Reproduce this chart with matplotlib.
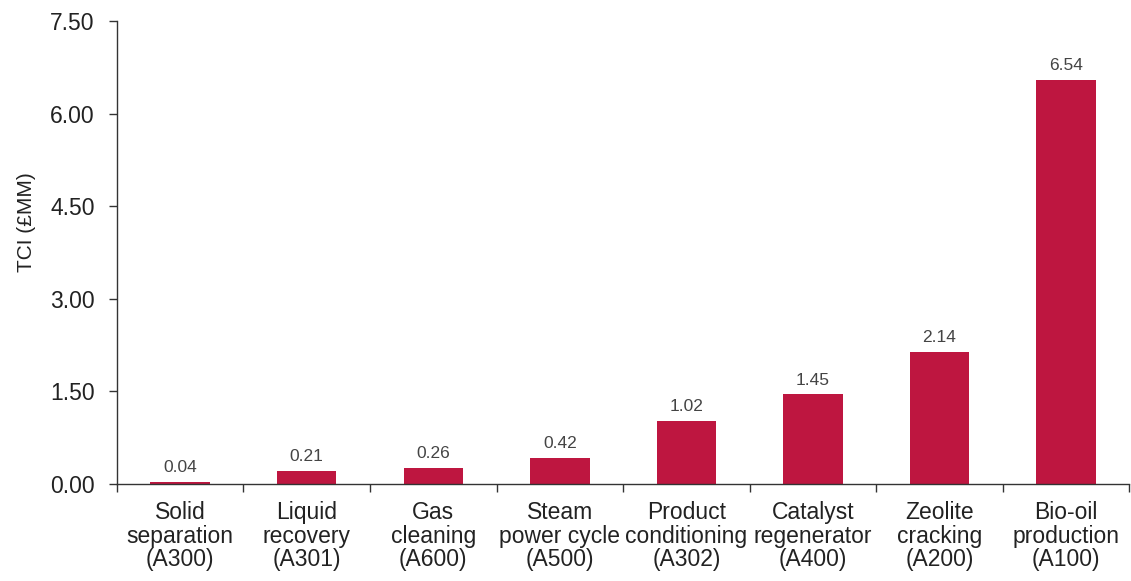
import matplotlib
matplotlib.use("Agg")
import matplotlib.pyplot as plt
import numpy as np

plt.rcParams['font.family'] = ['Liberation Sans', 'DejaVu Sans']

categories = [
    "Solid\nseparation\n(A300)",
    "Liquid\nrecovery\n(A301)",
    "Gas\ncleaning\n(A600)",
    "Steam\npower cycle\n(A500)",
    "Product\nconditioning\n(A302)",
    "Catalyst\nregenerator\n(A400)",
    "Zeolite\ncracking\n(A200)",
    "Bio-oil\nproduction\n(A100)",
]
tci_values = [0.04, 0.21, 0.26, 0.42, 1.02, 1.45, 2.14, 6.54]
y_ticks = [0.00, 1.50, 3.00, 4.50, 6.00, 7.50]

bar_color = "#BE1640"

fig = plt.figure(figsize=(11.31, 5.81), dpi=100)
ax = fig.add_axes([0.1034, 0.167, 0.895, 0.797])

x = np.arange(len(categories))
ax.bar(x, tci_values, width=0.47, color=bar_color, zorder=2)

for xi, v in zip(x, tci_values):
    ax.annotate(f"{v:.2f}", (xi, v), xytext=(0, 5), textcoords="offset points",
                ha="center", va="bottom", fontsize=12.5, color="#444444")

ax.set_xlim(-0.5, len(categories) - 0.5)
ax.set_ylim(0, 7.5)
ax.set_yticks(y_ticks)
ax.set_yticklabels([f"{t:.2f}" for t in y_ticks], fontsize=16.5, color="#222222")

# category labels at centres, tick marks at the category boundaries
ax.set_xticks(x)
ax.set_xticklabels(categories, fontsize=16.5, color="#222222", linespacing=1.05)
ax.tick_params(axis="x", which="major", length=0, pad=12)
ax.set_xticks(np.arange(-0.5, len(categories), 1.0), minor=True)
ax.tick_params(axis="x", which="minor", length=6, width=1, color="#333333", direction="out")
ax.tick_params(axis="y", length=6, width=1, color="#333333", direction="out", pad=10)

ax.set_ylabel("TCI (£MM)", fontsize=15, color="#222222")
ax.yaxis.set_label_coords(-0.080, 0.566)

for side in ("top", "right"):
    ax.spines[side].set_visible(False)
for side in ("left", "bottom"):
    ax.spines[side].set_color("#333333")
    ax.spines[side].set_linewidth(1)

fig.savefig("out.png", dpi=100)
